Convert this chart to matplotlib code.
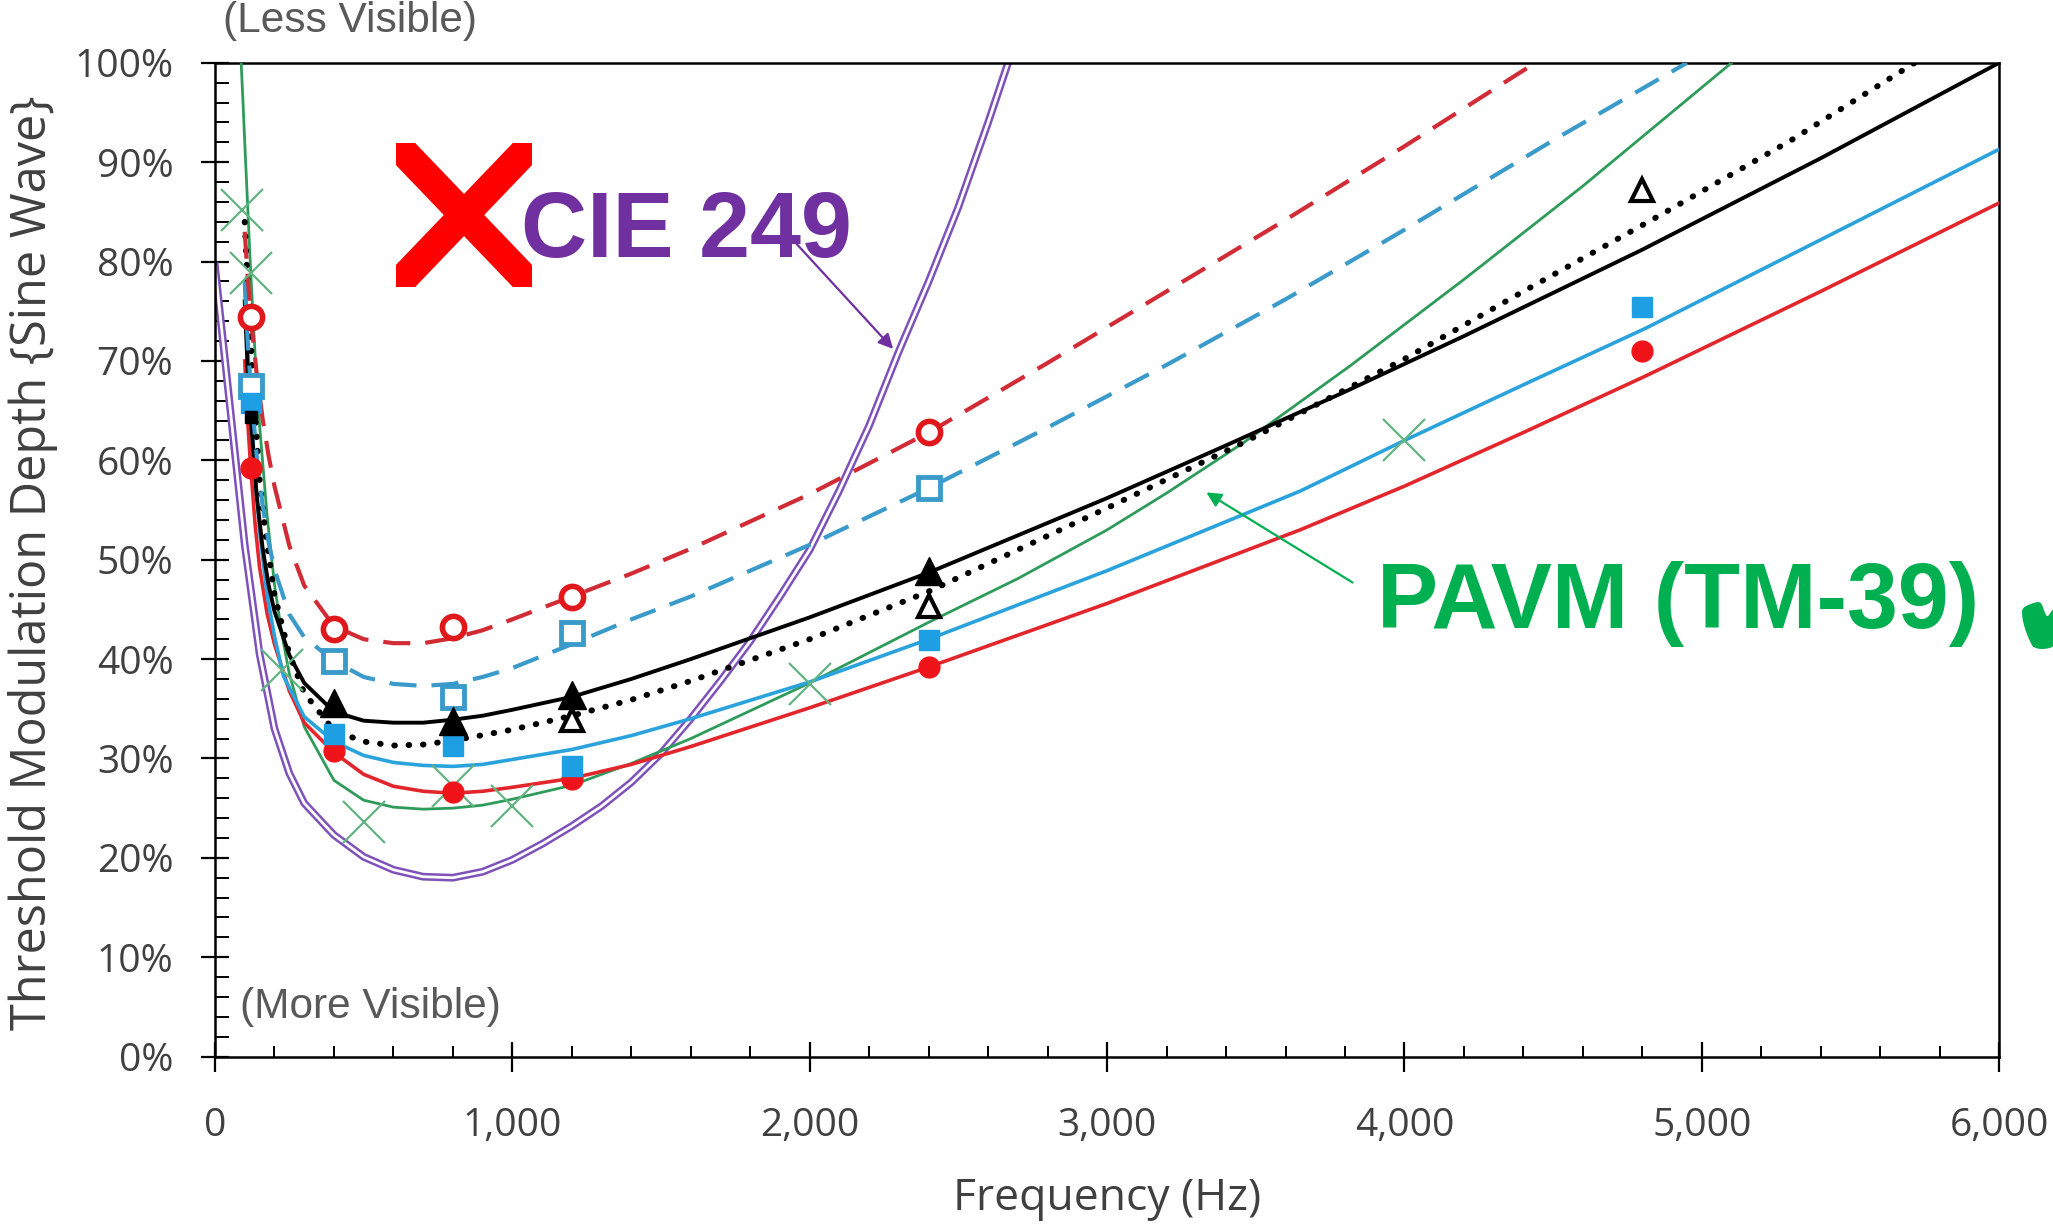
import matplotlib
matplotlib.use("Agg")
import matplotlib.pyplot as plt
from matplotlib.ticker import MultipleLocator, FuncFormatter
from matplotlib.lines import Line2D
from matplotlib.patches import Rectangle, FancyArrowPatch

# ---------------- data ----------------
# CIE 249 curve (purple double line)
cie_f = [0, 50, 100, 150, 200, 250, 300, 400, 500, 600, 700, 800, 900, 1000, 1100,
         1200, 1300, 1400, 1500, 1600, 1700, 1800, 1900, 2000, 2100, 2200, 2300, 2400,
         2500, 2600, 2667]
cie_v = [79.5, 65.5, 51.5, 40.5, 33.0, 28.5, 25.5, 22.3, 20.1, 18.8, 18.1, 18.0, 18.6,
         19.8, 21.4, 23.2, 25.2, 27.6, 30.5, 34.0, 37.8, 41.8, 46.3, 51.0, 57.0, 63.5,
         71.0, 78.0, 85.5, 94.0, 100.0]

# PAVM (TM-39) curve (green)
pavm_f = [88, 95, 100, 110, 120, 135, 150, 175, 200, 225, 250, 300, 400, 500, 600, 700,
          800, 900, 1000, 1200, 1400, 1600, 2000, 2400, 2700, 3000, 3200, 3460, 3817,
          4200, 4600, 5100]
pavm_v = [100, 95.5, 92, 85.5, 79, 70.5, 63.5, 54.5, 47.5, 42.5, 38.5, 33.2, 27.8, 25.8,
          25.1, 24.9, 25.0, 25.3, 25.9, 27.3, 29.5, 32.0, 37.6, 43.7, 48.1, 53.0, 56.7,
          61.8, 69.5, 78.2, 87.6, 100]
pavm_pts_f = [90, 120, 225, 500, 800, 1000, 2000, 4000]
pavm_pts_v = [85.2, 78.8, 38.9, 23.6, 27.2, 25.2, 37.5, 62.0]

# red dashed curve + open red circles
rdash_f = [100, 110, 120, 140, 160, 180, 200, 250, 300, 400, 500, 600, 700, 800, 900,
           1000, 1200, 1400, 1600, 2000, 2400, 2800, 3200, 3600, 4000, 4440]
rdash_v = [83, 78.5, 74.4, 68.8, 64.2, 60.5, 57.4, 51.4, 47.4, 43.3, 42.0, 41.6, 41.6,
           42.1, 42.9, 44.0, 46.3, 48.6, 51.1, 56.6, 62.8, 69.8, 77.0, 84.2, 91.6, 100]
rdash_pts_f = [120, 400, 800, 1200, 2400]
rdash_pts_v = [74.4, 43.0, 43.2, 46.2, 62.8]

# blue dashed curve + open blue squares
bdash_f = [100, 110, 120, 140, 160, 180, 200, 250, 300, 400, 500, 600, 700, 800, 900,
           1000, 1200, 1400, 1600, 2000, 2400, 2800, 3200, 3600, 4000, 4500, 4950]
bdash_v = [78, 72, 67.5, 60.5, 55.5, 51.8, 49.0, 44.5, 42.2, 39.8, 38.2, 37.5, 37.3,
           37.5, 38.2, 39.1, 41.5, 44.0, 46.3, 51.5, 57.2, 63.3, 69.6, 76.2, 83.2, 92.2, 100]
bdash_pts_f = [120, 400, 800, 1200, 2400]
bdash_pts_v = [67.5, 39.8, 36.2, 42.6, 57.2]

# black solid curve + filled black triangles
ksol_f = [100, 110, 120, 140, 160, 180, 200, 250, 300, 400, 500, 600, 700, 800, 900,
          1000, 1200, 1400, 1600, 2000, 2400, 3000, 3400, 3800, 4200, 4800, 5400, 6000]
ksol_v = [76, 69, 64.4, 56.5, 51.2, 47.5, 44.8, 40.4, 37.6, 34.7, 33.8, 33.6, 33.6, 33.9,
          34.3, 34.9, 36.2, 38.0, 40.0, 44.2, 48.7, 56.2, 61.5, 66.9, 72.5, 81.2, 90.4, 100]
ksol_pts_f = [400, 800, 1200, 2400]
ksol_pts_v = [35.6, 33.8, 36.4, 48.9]

# black dotted curve + open black triangles
kdot_f = [100, 110, 120, 135, 150, 170, 200, 250, 300, 400, 500, 600, 700, 800, 1000,
          1200, 1400, 1600, 2000, 2400, 3000, 3460, 4000, 4400, 4844, 5300, 5716]
kdot_v = [84, 77.5, 72, 64.5, 58.0, 52.6, 46.5, 40.5, 36.6, 32.8, 31.7, 31.3, 31.4, 31.8,
          32.9, 34.3, 35.9, 37.8, 42.0, 46.8, 55.2, 61.8, 70.2, 77.0, 84.4, 92.2, 100]
kdot_pts_f = [1200, 2400, 4800]
kdot_pts_v = [33.9, 45.3, 87.2]

# blue solid curve + filled blue squares
bsol_f = [100, 110, 120, 135, 150, 175, 200, 230, 300, 400, 500, 600, 700, 800, 900,
          1000, 1200, 1400, 1600, 2000, 2400, 3000, 3649, 4000, 4400, 4812, 5400, 6000]
bsol_v = [78, 71.5, 66, 58.5, 52.8, 46.5, 42.3, 38.3, 34.2, 31.7, 30.3, 29.6, 29.3, 29.2,
          29.4, 29.9, 30.9, 32.3, 34.0, 37.7, 42.0, 48.9, 56.9, 62.0, 67.6, 73.3, 82.2, 91.3]
bsol_pts_f = [120, 400, 800, 1200, 2400, 4800]
bsol_pts_v = [65.8, 32.5, 31.3, 29.2, 41.9, 75.4]

# red solid curve + filled red circles
rsol_f = [100, 110, 120, 135, 150, 175, 200, 250, 300, 400, 500, 600, 700, 800, 900,
          1000, 1200, 1400, 1600, 2000, 2400, 3000, 3649, 4000, 4400, 4812, 5400, 6000]
rsol_v = [70, 64, 59.3, 53.5, 49.2, 44.6, 41.5, 36.8, 33.6, 30.6, 28.4, 27.2, 26.7, 26.5,
          26.7, 27.1, 28.0, 29.4, 31.2, 35.1, 39.2, 45.6, 53.0, 57.4, 62.8, 68.5, 77.0, 85.9]
rsol_pts_f = [120, 400, 800, 1200, 2400, 4800]
rsol_pts_v = [59.2, 30.8, 26.6, 27.9, 39.2, 71.0]

# extra black square at 120 Hz
ksq_f = [120]
ksq_v = [64.4]

x_ticks = [0, 1000, 2000, 3000, 4000, 5000, 6000]
y_ticks = [0, 10, 20, 30, 40, 50, 60, 70, 80, 90, 100]

# ---------------- figure ----------------
W, H, DPI = 2053, 1229, 100
plt.rcParams['font.family'] = ['Open Sans', 'DejaVu Sans']
fig = plt.figure(figsize=(W / DPI, H / DPI), dpi=DPI)
fig.patch.set_facecolor('white')

AX_L, AX_R, AX_T, AX_B = 215.0, 1999.2, 62.8, 1056.6
ax = fig.add_axes([AX_L / W, 1 - AX_B / H, (AX_R - AX_L) / W, (AX_B - AX_T) / H])
ax.set_xlim(0, 6000)
ax.set_ylim(0, 100)

C_RED = '#E3262B'
C_RED_D = '#D12B35'
C_RED_M = '#F0141A'
C_BLUE = '#2AA3DC'
C_BLUE_D = '#3A9BCB'
C_BLUE_M = '#1E9FE3'
C_GREEN = '#2E9B5A'
C_GREEN_X = '#62B482'
C_PURPLE = '#7E52B8'

# curves
ax.plot(cie_f, cie_v, color=C_PURPLE, lw=5.6, zorder=2)
ax.plot(cie_f, cie_v, color='white', lw=2.0, zorder=2.1)
ax.plot(pavm_f, pavm_v, color=C_GREEN, lw=2.0, zorder=3)
ax.plot(rsol_f, rsol_v, color=C_RED, lw=2.6, zorder=3.2)
ax.plot(bsol_f, bsol_v, color=C_BLUE, lw=2.6, zorder=3.3)
ax.plot(kdot_f, kdot_v, color='black', lw=4.3, linestyle=(0, (0.1, 2.3)),
        dash_capstyle='round', zorder=3.4)
ax.plot(ksol_f, ksol_v, color='black', lw=2.8, zorder=3.5)
ax.plot(bdash_f, bdash_v, color=C_BLUE_D, lw=3.0, linestyle=(0, (6.5, 3.6)), zorder=3.6)
ax.plot(rdash_f, rdash_v, color=C_RED_D, lw=3.0, linestyle=(0, (6.5, 3.6)), zorder=3.7)

# markers
ax.plot(pavm_pts_f, pavm_pts_v, ls='none', marker='x', ms=30, mew=1.6, color=C_GREEN_X, zorder=4)
ax.plot(rsol_pts_f, rsol_pts_v, ls='none', marker='o', ms=15, color=C_RED_M, mec=C_RED_M, zorder=5)
ax.plot(kdot_pts_f, kdot_pts_v, ls='none', marker='^', ms=16, mfc='white', mec='black', mew=3, zorder=5.2)
ax.plot(bdash_pts_f, bdash_pts_v, ls='none', marker='s', ms=16, mfc='white', mec=C_BLUE_D, mew=3.5, zorder=5.3)
ax.plot(bsol_pts_f, bsol_pts_v, ls='none', marker='s', ms=14, color=C_BLUE_M, mec=C_BLUE_M, zorder=5.35)
ax.plot(ksol_pts_f, ksol_pts_v, ls='none', marker='^', ms=20, color='black', zorder=5.4)
ax.plot(rdash_pts_f, rdash_pts_v, ls='none', marker='o', ms=16, mfc='white', mec='#E0181B', mew=4, zorder=5.5)
ax.plot(ksq_f, ksq_v, ls='none', marker='s', ms=9, color='black', zorder=5.6)

# axes styling
for s in ax.spines.values():
    s.set_linewidth(1.8)
    s.set_color('black')
ax.set_xticks(x_ticks)
ax.set_yticks(y_ticks)
ax.xaxis.set_minor_locator(MultipleLocator(200))
ax.yaxis.set_minor_locator(MultipleLocator(2))
ax.xaxis.set_major_formatter(FuncFormatter(lambda v, p: f"{int(v):,}"))
ax.yaxis.set_major_formatter(FuncFormatter(lambda v, p: f"{int(v)}%"))
ax.tick_params(axis='y', which='major', direction='inout', length=20, width=1.6,
               pad=20, labelsize=28, labelcolor='#404040')
ax.tick_params(axis='x', which='major', direction='inout', length=22, width=1.6,
               pad=25, labelsize=28, labelcolor='#404040')
ax.tick_params(axis='y', which='minor', direction='in', length=10, width=1.4)
ax.tick_params(axis='x', which='minor', direction='in', length=8, width=1.4)
ax.tick_params(top=False, right=False, which='both')

axw = AX_R - AX_L
axh = AX_B - AX_T
ax.set_xlabel('Frequency (Hz)', fontsize=32, color='#404040', va='center')
ax.xaxis.set_label_coords(0.5, (AX_B - 1199) / axh)
ax.set_ylabel('Threshold Modulation Depth {Sine Wave}', fontsize=35, color='#404040',
              va='center', ha='center')
ax.yaxis.set_label_coords((33 - AX_L) / axw, (AX_B - 563) / axh)

# ---------------- annotations ----------------
def fx(px):
    return px / W

def fy(py):
    return 1 - py / H

fig.text(fx(350), fy(21), '(Less Visible)', family='Liberation Sans', fontsize=30.5,
         color='#595959', ha='center', va='center')
fig.text(fx(370), fy(1007), '(More Visible)', family='Liberation Sans', fontsize=30.5,
         color='#595959', ha='center', va='center')

fig.text(fx(521), fy(257), 'CIE 249', family='Liberation Sans', fontweight='bold',
         fontsize=66, color='#7030A0', ha='left', va='baseline')
fig.text(fx(1377), fy(628), 'PAVM (TM-39)', family='Liberation Sans', fontweight='bold',
         fontsize=66, color='#00B050', ha='left', va='baseline')
fig.text(fx(2004), fy(620), '\u2714', family='DejaVu Sans', fontsize=112,
         color='#00B050', ha='left', va='center')

# red X mark
x0, x1, y0, y1 = 396, 532, 143, 287
clip = Rectangle((fx(x0), fy(y1)), fx(x1) - fx(x0), fy(y0) - fy(y1),
                 transform=fig.transFigure, facecolor='none', edgecolor='none')
fig.add_artist(clip)
ext = 25
for (ax0, ay0, ax1, ay1) in [(x0 - ext, y0 - ext, x1 + ext, y1 + ext),
                             (x0 - ext, y1 + ext, x1 + ext, y0 - ext)]:
    ln = Line2D([fx(ax0), fx(ax1)], [fy(ay0), fy(ay1)], transform=fig.transFigure,
                color='#FF0000', lw=21, solid_capstyle='butt')
    ln.set_clip_path(clip)
    fig.add_artist(ln)

# arrows
arr1 = FancyArrowPatch((fx(793), fy(240)), (fx(895), fy(351)), transform=fig.transFigure,
                       arrowstyle='-|>', mutation_scale=22, lw=1.6, color='#7030A0')
fig.add_artist(arr1)
arr2 = FancyArrowPatch((fx(1355), fy(584)), (fx(1204), fy(491)), transform=fig.transFigure,
                       arrowstyle='-|>', mutation_scale=22, lw=1.6, color='#00B050')
fig.add_artist(arr2)

fig.savefig('out.png', dpi=DPI, facecolor='white')
